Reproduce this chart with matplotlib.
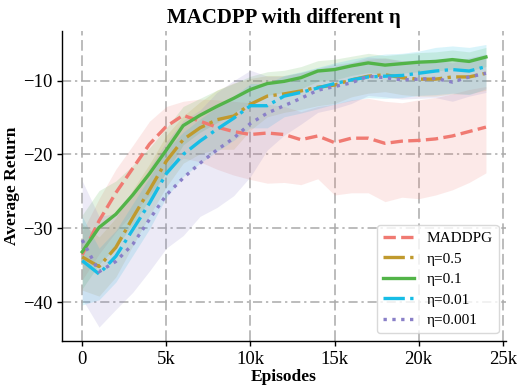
import numpy as np
import matplotlib
matplotlib.use("Agg")
import matplotlib.pyplot as plt

plt.rcParams['font.family'] = ['Liberation Serif', 'DejaVu Serif']

episodes = [0, 1000, 2000, 3000, 4000, 5000, 6000, 7000, 8000, 9000, 10000, 11000,
            12000, 13000, 14000, 15000, 16000, 17000, 18000, 19000, 20000, 21000,
            22000, 23000, 24000]

labels = ["MADDPG", "η=0.5", "η=0.1", "η=0.01", "η=0.001"]
colors = ["#F07A72", "#C09A2E", "#52B448", "#17BDE6", "#8A80C8"]

maddpg_mean = [-33.6, -29.0, -25.2, -21.9, -18.6, -16.2, -14.7, -15.5, -16.3, -16.9, -17.3, -17.1,
               -17.3, -18.0, -17.5, -18.4, -17.8, -17.8, -18.5, -18.2, -18.1, -17.9, -17.5, -16.9, -16.3]
maddpg_upper = [-30.5, -26.0, -22.0, -18.8, -15.5, -13.5, -12.8, -12.5, -12.6, -12.8, -13.0, -13.2,
                -13.5, -14.2, -13.5, -13.2, -12.6, -12.4, -12.8, -13.0, -12.6, -12.3, -11.8, -11.2, -10.8]
maddpg_lower = [-37.0, -33.5, -30.5, -28.0, -25.5, -22.5, -20.5, -21.0, -22.0, -22.8, -23.4, -23.9,
                -23.8, -24.1, -23.3, -25.5, -25.2, -25.2, -26.4, -25.8, -26.0, -25.5, -24.8, -23.8, -22.5]

eta05_mean = [-33.9, -35.2, -32.6, -28.6, -24.8, -20.9, -18.0, -16.4, -15.3, -14.8, -13.2, -12.1,
              -11.8, -11.4, -10.9, -10.6, -9.9, -9.4, -9.2, -9.6, -9.8, -9.8, -9.5, -9.5, -9.0]
eta05_std = [4.5, 4.0, 4.0, 3.8, 3.5, 3.5, 3.2, 3.5, 4.0, 4.5, 3.5, 2.8,
             2.5, 2.5, 2.5, 2.5, 2.3, 2.3, 2.3, 2.3, 2.3, 2.3, 2.3, 2.3, 2.3]

eta01_mean = [-33.2, -29.9, -28.1, -25.5, -22.6, -19.4, -16.1, -14.7, -13.5, -12.4, -11.2, -10.4,
              -10.1, -9.6, -8.7, -8.5, -8.0, -7.6, -7.9, -7.7, -7.5, -7.4, -7.15, -7.4, -6.8]
eta01_std = [5.0, 5.0, 4.5, 4.0, 3.5, 3.0, 2.6, 2.3, 2.2, 2.0, 1.8, 1.6,
             1.5, 1.5, 1.4, 1.4, 1.3, 1.3, 1.3, 1.3, 1.3, 1.3, 1.3, 1.3, 1.3]

eta001_mean = [-34.4, -36.2, -33.8, -30.2, -26.6, -22.6, -20.0, -18.2, -16.6, -15.1, -13.4, -13.4,
               -12.1, -11.6, -11.0, -10.4, -9.9, -9.5, -9.4, -9.3, -9.0, -8.7, -8.5, -8.7, -8.1]
eta001_std = [6.0, 3.5, 3.5, 3.5, 3.5, 3.2, 3.0, 3.0, 3.0, 3.0, 3.0, 3.0,
              2.8, 2.8, 2.8, 2.8, 2.8, 2.8, 3.0, 3.0, 3.0, 3.2, 3.2, 3.2, 3.0]

eta0001_mean = [-31.6, -35.9, -34.5, -32.2, -28.8, -25.5, -23.2, -21.2, -19.4, -17.8, -15.8, -14.4,
                -13.4, -12.4, -11.3, -10.8, -10.3, -9.4, -9.6, -9.9, -9.8, -9.7, -10.2, -9.5, -9.0]
eta0001_std = [8.0, 7.5, 6.5, 6.5, 7.0, 7.2, 7.8, 7.2, 7.8, 7.8, 7.2, 5.0,
               4.0, 3.5, 3.0, 3.0, 2.8, 2.6, 2.6, 2.6, 2.6, 2.6, 2.6, 2.6, 2.6]

x_ticks = [0, 5000, 10000, 15000, 20000, 25000]
x_ticklabels = ["0", "5k", "10k", "15k", "20k", "25k"]
y_ticks = [-40, -30, -20, -10]

fig = plt.figure(figsize=(5.17, 3.85), dpi=100)
ax = fig.add_axes([0.12, 0.114, 0.859, 0.805])

x = np.array(episodes)
means = [maddpg_mean, eta05_mean, eta01_mean, eta001_mean, eta0001_mean]
lowers = [maddpg_lower]
uppers = [maddpg_upper]
for m, s in [(eta05_mean, eta05_std), (eta01_mean, eta01_std),
             (eta001_mean, eta001_std), (eta0001_mean, eta0001_std)]:
    m = np.array(m); s = np.array(s)
    lowers.append(m - s); uppers.append(m + s)

styles = ['--', '-.', '-', '-.', ':']

for i in range(5):
    ax.fill_between(x, lowers[i], uppers[i], color=colors[i], alpha=0.16, linewidth=0)
for i in range(5):
    ax.plot(x, means[i], color=colors[i], linewidth=2.4, linestyle=styles[i], label=labels[i])

ax.set_xlim(-1200, 25200)
ax.set_ylim(-45.3, -3.3)
ax.set_xticks(x_ticks)
ax.set_xticklabels(x_ticklabels)
ax.set_yticks(y_ticks)
ax.tick_params(labelsize=13.5, width=1.0, length=3.5)

for xt in x_ticks:
    ax.axvline(xt, color='#aaaaaa', linewidth=1.1, dashes=(7, 3), zorder=0.5)
for yt in y_ticks:
    ax.axhline(yt, color='#aaaaaa', linewidth=1.1, dashes=(6, 2.5, 1.5, 2.5), zorder=0.5)

ax.spines['top'].set_visible(False)
ax.spines['right'].set_visible(False)
ax.spines['left'].set_linewidth(1.0)
ax.spines['bottom'].set_linewidth(1.0)

ax.set_title("MACDPP with different η", fontsize=15, fontweight='bold', pad=6)
ax.set_xlabel("Episodes", fontsize=12.5, fontweight='bold', labelpad=1)
ax.set_ylabel("Average Return", fontsize=12.5, fontweight='bold', labelpad=2)

leg = ax.legend(loc='lower right', fontsize=11, labelspacing=0.45, borderaxespad=0.5)
leg.get_frame().set_edgecolor('#d0d0d0')

fig.savefig("out.png", dpi=100)
